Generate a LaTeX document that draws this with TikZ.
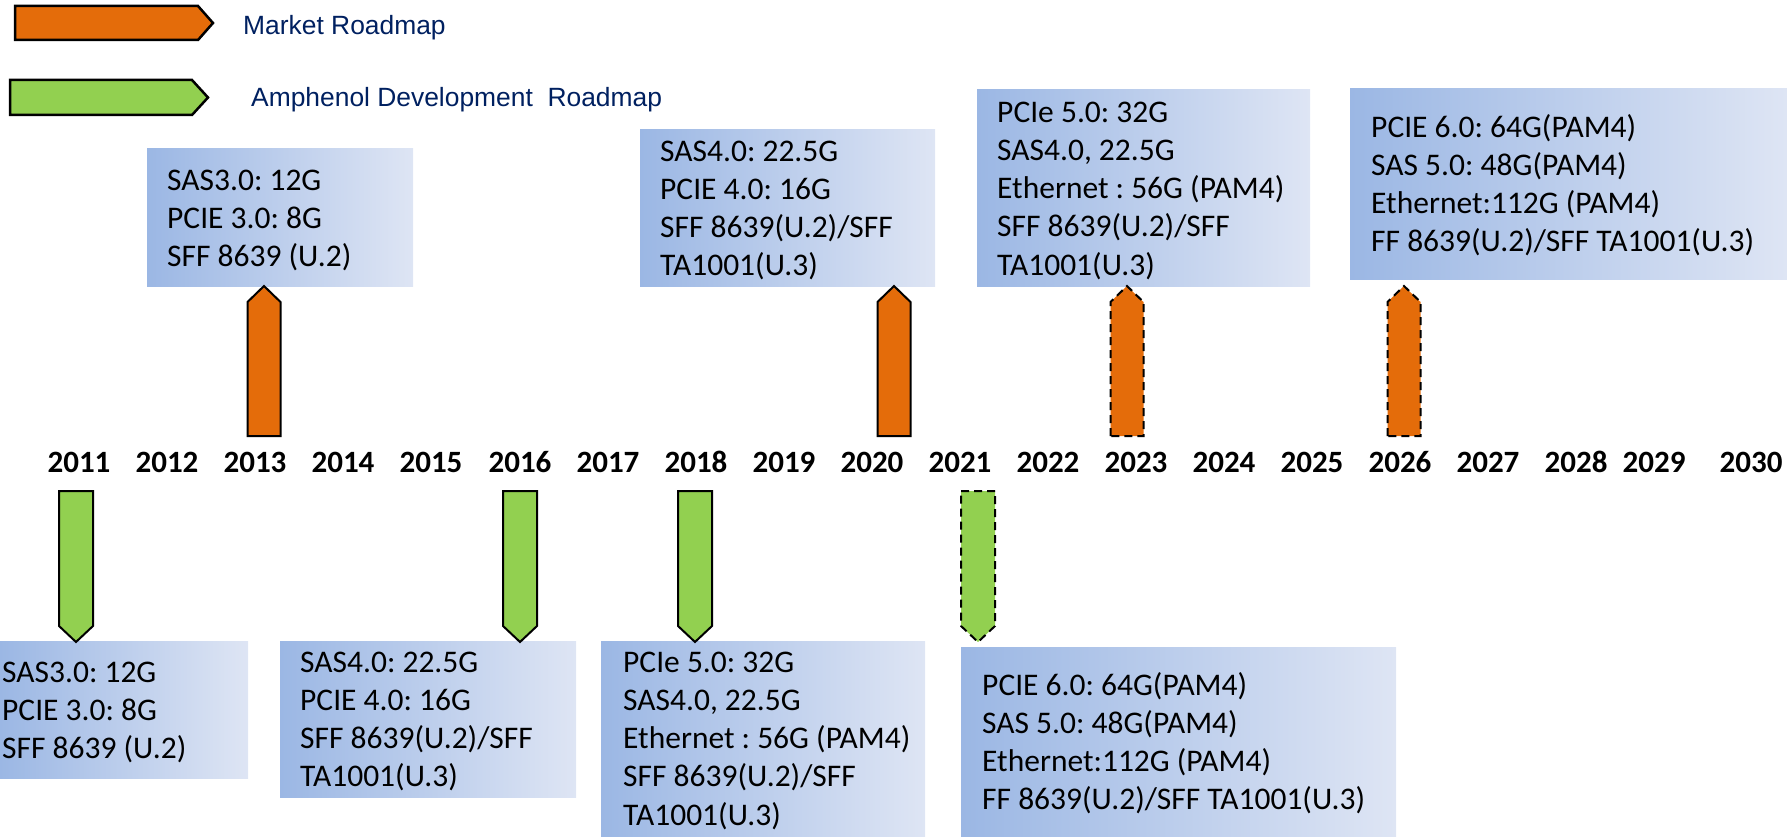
\documentclass[tikz,border=0pt]{standalone}
\usepackage{fontspec}
\setmainfont{Carlito}
\newfontfamily\legendfont{Liberation Sans}
\definecolor{MarketColor}{RGB}{228,108,10}
\definecolor{DevColor}{RGB}{146,208,80}
\definecolor{LegendText}{RGB}{0,32,96}
\definecolor{BoxLeft}{RGB}{155,183,228}
\definecolor{BoxRight}{RGB}{222,229,244}
\usepackage{tikz}
\tikzstyle{roadmarker} = [draw=black, line width=2pt, line join=miter]
\tikzstyle{planned} = [dash pattern=on 8pt off 5pt]
\tikzstyle{infotext} = [anchor=base west, align=left, inner sep=0pt, font=\fontsize{31.5}{38.3}\selectfont]
\tikzstyle{yearlabel} = [inner sep=0pt, font=\fontsize{31}{37}\selectfont\bfseries]
\tikzstyle{legendlabel} = [anchor=base west, inner sep=0pt, text=LegendText, font=\legendfont\fontsize{26.4}{30}\selectfont]
\frenchspacing

\begin{document}
\begin{tikzpicture}[x=1pt,y=-1pt]
            \useasboundingbox (0,0) rectangle (1787,837);

            % Legend
            \draw[roadmarker, line width=2.5pt, fill=MarketColor] (15,6) -- (198,6) -- (213,23) -- (198,40) -- (15,40) -- cycle;
            \node[legendlabel] (marketlegend) at (243,35) {Market Roadmap};
            \draw[roadmarker, line width=2.5pt, fill=DevColor] (10,80) -- (192,80) -- (208,97.5) -- (192,115) -- (10,115) -- cycle;
            \node[legendlabel] (devlegend) at (251,107) {Amphenol Development\ \ Roadmap};

            % Market roadmap boxes (text placed at last baseline)
            \shade[left color=BoxLeft, right color=BoxRight] (147,149) rectangle (413,286);
            \node[infotext] (market13) at (167,266.6) {SAS3.0: 12G\\PCIE 3.0: 8G\\SFF 8639 (U.2)};
            \shade[left color=BoxLeft, right color=BoxRight] (640,130) rectangle (935,286);
            \node[infotext] (market20) at (660,275.9) {SAS4.0: 22.5G\\PCIE 4.0: 16G\\SFF 8639(U.2)/SFF\\TA1001(U.3)};
            \shade[left color=BoxLeft, right color=BoxRight] (977,90) rectangle (1310,286);
            \node[infotext] (market23) at (997,275.2) {PCIe 5.0: 32G\\SAS4.0, 22.5G\\Ethernet : 56G (PAM4)\\SFF 8639(U.2)/SFF\\TA1001(U.3)};
            \shade[left color=BoxLeft, right color=BoxRight] (1350,89) rectangle (1787,279);
            \node[infotext] (market26) at (1371,251.9) {PCIE 6.0: 64G(PAM4)\\SAS 5.0: 48G(PAM4)\\Ethernet:112G (PAM4)\\FF 8639(U.2)/SFF TA1001(U.3)};

            % Development roadmap boxes
            \shade[left color=BoxLeft, right color=BoxRight] (0,641) rectangle (248,778);
            \node[infotext] (dev11) at (2,758.6) {SAS3.0: 12G\\PCIE 3.0: 8G\\SFF 8639 (U.2)};
            \shade[left color=BoxLeft, right color=BoxRight] (280,641) rectangle (576,797);
            \node[infotext] (dev16) at (300,786.9) {SAS4.0: 22.5G\\PCIE 4.0: 16G\\SFF 8639(U.2)/SFF\\TA1001(U.3)};
            \shade[left color=BoxLeft, right color=BoxRight] (601,641) rectangle (925,837);
            \node[infotext] (dev18) at (623,825.2) {PCIe 5.0: 32G\\SAS4.0, 22.5G\\Ethernet : 56G (PAM4)\\SFF 8639(U.2)/SFF\\TA1001(U.3)};
            \shade[left color=BoxLeft, right color=BoxRight] (961,647) rectangle (1396,837);
            \node[infotext] (dev21) at (982,809.9) {PCIE 6.0: 64G(PAM4)\\SAS 5.0: 48G(PAM4)\\Ethernet:112G (PAM4)\\FF 8639(U.2)/SFF TA1001(U.3)};

            % Years
            \foreach \yr/\x in {2011/79,2012/167,2013/255,2014/343,2015/431,2016/520,2017/608,2018/696,2019/784,2020/872,
                    2021/960,2022/1048,2023/1136,2024/1224,2025/1312,2026/1400,2027/1488,2028/1576,2029/1654,2030/1751} {
                    \node[yearlabel] (y\yr) at (\x,462) {\yr};
                }

            % Market markers (up)
            \foreach \x in {264,894} {
                    \draw[roadmarker, fill=MarketColor] (\x-16.5,436) -- (\x-16.5,302) -- (\x,286) -- (\x+16.5,302) -- (\x+16.5,436) -- cycle;
                }
            \foreach \x in {1127,1404} {
                    \draw[roadmarker, planned, fill=MarketColor] (\x-16.5,436) -- (\x-16.5,302) -- (\x,286) -- (\x+16.5,302) -- (\x+16.5,436) -- cycle;
                }

            % Development markers (down)
            \foreach \x in {76,520,695} {
                    \draw[roadmarker, fill=DevColor] (\x-17,491) -- (\x+17,491) -- (\x+17,626) -- (\x,642) -- (\x-17,626) -- cycle;
                }
            \foreach \x in {978} {
                    \draw[roadmarker, planned, fill=DevColor] (\x-17,491) -- (\x+17,491) -- (\x+17,626) -- (\x,642) -- (\x-17,626) -- cycle;
                }
        \end{tikzpicture}
\end{document}
